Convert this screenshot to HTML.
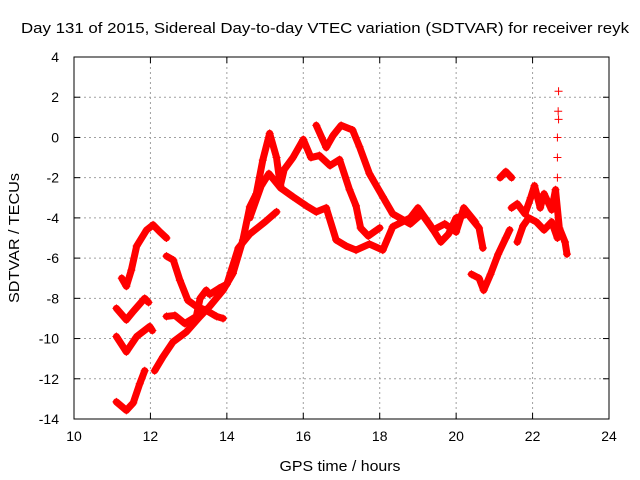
<!DOCTYPE html>
<html><head><meta charset="utf-8"><style>
html,body{margin:0;padding:0;background:#fff;}
svg{display:block;font-family:"Liberation Sans",sans-serif;}
</style></head><body>
<svg id="chart" width="640" height="480">
<text x="325" y="33" text-anchor="middle" font-size="15" textLength="608" lengthAdjust="spacingAndGlyphs">Day 131 of 2015, Sidereal Day-to-day VTEC variation (SDTVAR) for receiver reyk</text>
<text x="340" y="471" text-anchor="middle" font-size="15" textLength="121" lengthAdjust="spacingAndGlyphs">GPS time / hours</text>
<text transform="translate(19,238) rotate(-90)" text-anchor="middle" font-size="15" textLength="130" lengthAdjust="spacingAndGlyphs">SDTVAR / TECUs</text>
<g id="grid"></g><g id="ticks"></g><g id="marks"></g>
<rect x="74" y="57" width="535" height="362" fill="none" stroke="#000" stroke-width="1"/>
</svg>
<script>
const xTicks=[10,12,14,16,18,20,22,24];
const yTicks=[4,2,0,-2,-4,-6,-8,-10,-12,-14];
const trackA=[[11.25,-7.0],[11.37,-7.4],[11.5,-6.6],[11.64,-5.4],[11.9,-4.6],[12.07,-4.35],[12.25,-4.7],[12.42,-5.0]];
const trackB=[[12.42,-5.9],[12.6,-6.1],[12.77,-7.1],[12.98,-8.1],[13.2,-8.4],[13.46,-8.6],[13.73,-8.9],[13.9,-9.0]];
const trackC=[[11.11,-8.5],[11.37,-9.07],[11.55,-8.65],[11.85,-8.0],[11.95,-8.2]];
const trackC2=[[12.42,-8.9],[12.64,-8.85],[12.9,-9.25],[13.2,-8.9],[13.3,-8.0],[13.46,-7.6],[13.55,-7.8],[13.8,-7.5],[14.0,-7.3],[14.3,-5.5],[14.6,-4.8],[15.0,-4.2],[15.3,-3.7]];
const trackD=[[11.11,-9.9],[11.37,-10.66],[11.64,-9.9],[11.98,-9.4],[12.05,-9.6]];
const trackE=[[11.11,-13.15],[11.37,-13.57],[11.55,-13.2],[11.72,-12.25],[11.85,-11.6]];
const trackF=[[12.11,-11.6],[12.33,-10.9],[12.59,-10.17],[12.94,-9.67],[13.29,-8.92],[13.55,-8.4],[13.9,-7.6],[14.16,-6.76],[14.42,-5.1],[14.6,-3.45],[14.77,-2.8],[14.94,-1.13],[15.12,0.2],[15.3,-1.0],[15.4,-2.4],[15.5,-1.6],[15.73,-1.0],[16.0,-0.1],[16.2,-1.0],[16.42,-0.9],[16.7,-1.4],[16.95,-1.1],[17.21,-2.6],[17.38,-3.4],[17.5,-4.5],[17.7,-4.9],[18.0,-4.5]];
const trackG=[[14.6,-4.0],[14.9,-2.4],[15.1,-1.8],[15.4,-2.5],[15.73,-2.95],[16.08,-3.4],[16.34,-3.7],[16.6,-3.5],[16.86,-5.1],[17.12,-5.4],[17.38,-5.6],[17.73,-5.3],[18.08,-5.6],[18.34,-4.44],[18.8,-4.0],[19.0,-3.5],[19.3,-4.3],[19.6,-5.2],[19.8,-4.8],[20.0,-4.0],[20.3,-3.8],[20.6,-4.5],[20.7,-5.5]];
const trackH=[[16.34,0.6],[16.6,-0.5],[16.78,0.1],[16.99,0.6],[17.29,0.37],[17.47,-0.46],[17.73,-1.8],[18.08,-2.95],[18.34,-3.8],[18.8,-4.3],[19.1,-3.8],[19.4,-4.6],[19.7,-4.3],[20.0,-4.7],[20.2,-3.5],[20.5,-4.2]];
const trackI=[[20.4,-6.8],[20.6,-7.0],[20.72,-7.6],[20.9,-6.8],[21.1,-5.8],[21.3,-5.0],[21.4,-4.6]];
const trackJ=[[21.15,-2.0],[21.3,-1.7],[21.45,-2.0]];
const trackK=[[21.45,-3.5],[21.6,-3.3],[21.8,-3.8],[21.95,-3.0],[22.05,-2.4],[22.2,-3.5],[22.3,-2.8],[22.5,-3.6],[22.6,-2.6],[22.7,-4.5],[22.85,-5.2],[22.9,-5.8]];
const trackL=[[21.6,-5.2],[21.75,-4.4],[21.9,-4.0],[22.1,-4.2],[22.3,-4.6],[22.5,-4.2],[22.65,-5.0]];
const sparseH=[22.68,22.67,22.68,22.65,22.65,22.65];
const sparseV=[2.3,1.3,0.9,0.0,-1.0,-2.0];
const tracks=[trackA,trackB,trackC,trackC2,trackD,trackE,trackF,trackG,trackH,trackI,trackJ,trackK,trackL];

const X=h=>74+(h-10)*(535/14);
const Y=v=>57+(4-v)*(362/18);
const NS='http://www.w3.org/2000/svg';
const grid=document.getElementById('grid'),ticks=document.getElementById('ticks'),marks=document.getElementById('marks');
function mk(tag,attrs,parent){const e=document.createElementNS(NS,tag);for(const k in attrs)e.setAttribute(k,attrs[k]);parent.appendChild(e);return e;}
xTicks.forEach(t=>{
  const x=X(t);
  if(t>10&&t<24){const g=mk('line',{x1:x,x2:x,y1:57,y2:419,stroke:'#a0a0a0','stroke-dasharray':'2,3'},grid);
  
  }
  mk('line',{x1:x,x2:x,y1:419,y2:413,stroke:'#000'},ticks);
  mk('line',{x1:x,x2:x,y1:57,y2:63,stroke:'#000'},ticks);
  const l=mk('text',{x:x,y:441,'text-anchor':'middle','font-size':14},ticks);l.textContent=t;
  
  
});
yTicks.forEach(t=>{
  const y=Y(t);
  if(t<4&&t>-14){const g=mk('line',{x1:74,x2:609,y1:y,y2:y,stroke:'#a0a0a0','stroke-dasharray':'2,3'},grid);
  
  }
  mk('line',{x1:74,x2:80,y1:y,y2:y,stroke:'#000'},ticks);
  mk('line',{x1:603,x2:609,y1:y,y2:y,stroke:'#000'},ticks);
  const l=mk('text',{x:59,y:y+5,'text-anchor':'end','font-size':14},ticks);l.textContent=t;
  
  
});
function plus(x,y){mk('path',{d:`M${x-4} ${y}H${x+4}M${x} ${y-4}V${y+4}`,stroke:'#f00','stroke-width':1,fill:'none'},marks);}
tracks.forEach(tr=>{
  const p=mk('polyline',{points:tr.map(d=>X(d[0])+','+Y(d[1])).join(' '),fill:'none',stroke:'#f00','stroke-width':7,'stroke-linejoin':'round','stroke-linecap':'round'},marks);
  
  
  tr.forEach(d=>plus(X(d[0]),Y(d[1])));
});
sparseH.forEach((h,i)=>plus(X(h),Y(sparseV[i])));
</script>
</body></html>
